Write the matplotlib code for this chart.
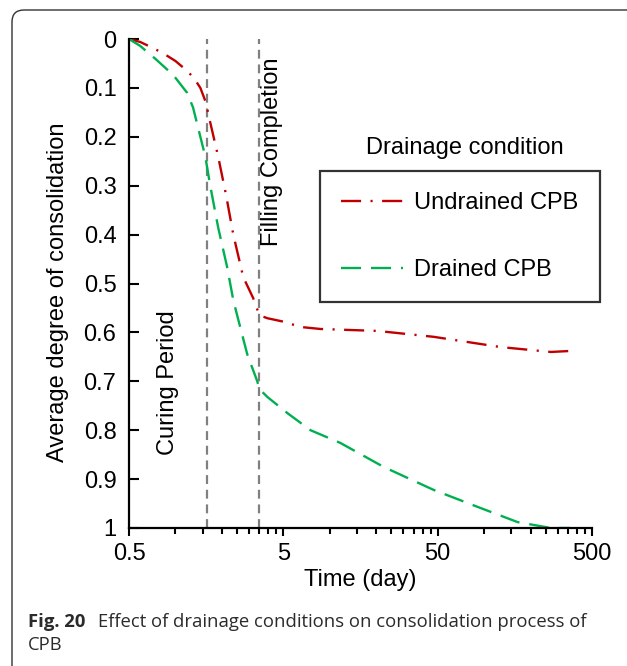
import matplotlib
matplotlib.use('Agg')
import matplotlib.pyplot as plt
from matplotlib.patches import FancyBboxPatch
from matplotlib.ticker import FixedLocator, NullFormatter, FixedFormatter

plt.rcParams['font.family'] = ['Liberation Sans', 'DejaVu Sans']

# data
undrained_t = [0.5, 0.59, 0.7, 0.83, 1.0, 1.21, 1.35, 1.45, 1.58, 1.65, 1.89, 2.13, 2.37, 2.75, 3.19, 3.5,
               3.94, 5.0, 6.5, 8.7, 20.4, 47, 128, 271, 360]
undrained_u = [0.0, 0.006, 0.017, 0.029, 0.045, 0.067, 0.085, 0.10, 0.131, 0.16, 0.24, 0.32, 0.40, 0.487,
               0.53, 0.565, 0.571, 0.578, 0.589, 0.593, 0.597, 0.609, 0.63, 0.64, 0.638]

drained_t = [0.5, 0.59, 0.75, 0.97, 1.19, 1.3, 1.45, 1.56, 1.68, 1.89, 2.16, 2.37, 2.51, 2.92, 3.39, 3.5,
             3.94, 5.31, 7.5, 11.7, 22.3, 47, 91, 165, 271, 360]
drained_u = [0.0, 0.014, 0.042, 0.074, 0.11, 0.14, 0.20, 0.24, 0.30, 0.385, 0.466, 0.534, 0.565, 0.645,
             0.700, 0.716, 0.732, 0.765, 0.80, 0.826, 0.875, 0.922, 0.957, 0.988, 1.0, 1.0]

curing_day = 1.6
filling_day = 3.5

x_major = [0.5, 5, 50, 500]
x_major_labels = ['0.5', '5', '50', '500']
x_minor = [0.5 * k * 10 ** n for n in range(3) for k in range(2, 10)]
y_ticks = [0, 0.1, 0.2, 0.3, 0.4, 0.5, 0.6, 0.7, 0.8, 0.9, 1]
y_labels = ['0', '0.1', '0.2', '0.3', '0.4', '0.5', '0.6', '0.7', '0.8', '0.9', '1']

W, H = 627, 666
FS = 17
fig = plt.figure(figsize=(W / 100, H / 100), dpi=100)
ax = fig.add_axes([129 / W, 1 - 528 / H, (592 - 129) / W, (528 - 39) / H])

red = '#C00000'
green = '#00B050'

ln_u, = ax.plot(undrained_t, undrained_u, color=red, lw=1.7, label='Undrained CPB')
ln_u.set_dashes((8.5, 4, 0.9, 4))
ln_d, = ax.plot(drained_t, drained_u, color=green, lw=1.7, label='Drained CPB')
ln_d.set_dashes((8.5, 4.2))

for xv in (curing_day, filling_day):
    v = ax.axvline(xv, color='#808080', lw=1.6, zorder=1)
    v.set_dashes((4, 2.6))

ax.set_xscale('log')
ax.set_xlim(0.5, 500)
ax.set_ylim(1, 0)
ax.xaxis.set_major_locator(FixedLocator(x_major))
ax.xaxis.set_major_formatter(FixedFormatter(x_major_labels))
ax.xaxis.set_minor_locator(FixedLocator(x_minor))
ax.xaxis.set_minor_formatter(NullFormatter())
ax.set_yticks(y_ticks)
ax.set_yticklabels(y_labels)

for s in ('top', 'right'):
    ax.spines[s].set_visible(False)
for s in ('left', 'bottom'):
    ax.spines[s].set_linewidth(1.6)

ax.tick_params(axis='y', direction='in', length=7, width=1.5, pad=9, labelsize=FS)
ax.tick_params(axis='x', which='major', direction='out', length=6, width=1.5, pad=5, labelsize=FS)
ax.tick_params(axis='x', which='minor', direction='out', length=4.5, width=1.5)

ax.set_xlabel('Time (day)', fontsize=FS, labelpad=3)
ax.set_ylabel('Average degree of consolidation', fontsize=FS)
ax.yaxis.set_label_coords((69 - 129) / (592 - 129), (528 - 292) / (528 - 39))

fig.text(168 / W, 1 - 383 / H, 'Curing Period', rotation=90, fontsize=FS,
         ha='center', va='center')
fig.text(272 / W, 1 - 152 / H, 'Filling Completion', rotation=90, fontsize=FS,
         ha='center', va='center')

fig.text(465 / W, 1 - 148 / H, 'Drainage condition', fontsize=FS, ha='center', va='center')
leg = ax.legend(loc='upper left', bbox_to_anchor=(320 / W, 1 - 171 / H),
                bbox_transform=fig.transFigure, fontsize=FS, frameon=True,
                fancybox=False, handlelength=2.6, handletextpad=0.5,
                labelspacing=1.9, borderpad=0.9, borderaxespad=0)
leg.get_frame().set_edgecolor('black')
leg.get_frame().set_linewidth(1.6)

# caption
cap_font = ['Open Sans', 'DejaVu Sans']
cap_col = '#2b2b2b'
fig.text(28 / W, 1 - 622 / H, 'Fig. 20', fontsize=13.3, fontweight='bold',
         family=cap_font, color=cap_col, va='center')
fig.text(98 / W, 1 - 622 / H, 'Effect of drainage conditions on consolidation process of',
         fontsize=13.3, family=cap_font, color=cap_col, va='center')
fig.text(28 / W, 1 - 645 / H, 'CPB', fontsize=13.3, family=cap_font, color=cap_col,
         va='center')

# outer rounded frame
frame = FancyBboxPatch((12, -30), 700, 30 + H - 10, boxstyle='round,pad=0,rounding_size=12',
                       transform=None, fill=False, edgecolor='#333333', lw=1.0)
fig.patches.append(frame)

fig.savefig('out.png', dpi=100)
